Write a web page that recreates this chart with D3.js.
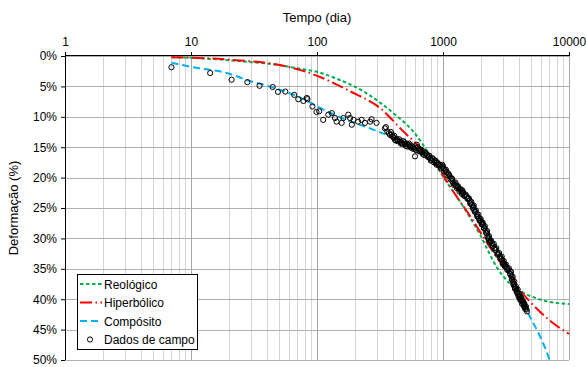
<!DOCTYPE html>
<html>
<head>
<meta charset="utf-8">
<script src="https://cdn.jsdelivr.net/npm/d3@7"></script>
<style>
  body { margin: 0; background: #fff; }
  svg { font-family: "Liberation Sans", Arial, sans-serif; }
</style>
</head>
<body>
<div id="chart"></div>
<script>
// tick values
const xTicks = [1, 10, 100, 1000, 10000];
const yTicks = [0, 5, 10, 15, 20, 25, 30, 35, 40, 45, 50];

// model curves: [tempo (dia), deformação (%)]
const reologico = [
  [7, 0.2], [10, 0.3], [26, 0.9], [50, 1.5], [73, 2.1], [100, 2.6], [134, 3.5],
  [246, 6.1], [403, 9.4], [580, 12.4], [786, 16.3], [1000, 19.8], [1450, 24.8],
  [1970, 29.4], [2685, 34.8], [3380, 37.4], [4330, 38.9], [6250, 40.2], [10000, 40.8]
];
const hiperbolico = [
  [7, 0.2], [20, 0.6], [57, 1.7], [93, 3.0], [183, 5.8], [318, 8.6], [484, 12.4],
  [700, 15.6], [1000, 19.6], [1140, 21.5], [1650, 26.4], [2200, 30.5], [3000, 34.6],
  [4000, 38.3], [4800, 40.2], [7550, 44.0], [10000, 45.7]
];
const composito = [
  [7, 1.1], [10.4, 1.85], [19.2, 2.8], [29.4, 4.1], [44.9, 5.2], [73, 6.8], [105, 8.5],
  [162, 10.3], [279, 12.1], [380, 13.2], [600, 15.5], [800, 17.0], [1000, 18.8],
  [1400, 22.3], [1800, 25.5], [2300, 29.2], [3000, 33.5], [3600, 36.8], [4200, 39.6],
  [4700, 42.1], [5920, 46.2], [7000, 49.9], [7300, 51]
];

// field data (dados de campo)
const campo = [
  [7, 1.85], [14.2, 2.8], [21, 3.9], [28, 4.3], [35, 4.9], [44.5, 5.1], [49, 5.9], [56, 5.85],
  [66, 6.4], [71, 7.1], [78, 7.4], [83, 6.9], [84, 7.1], [92, 8.3], [99, 9.2], [104, 9.1],
  [112, 10.5], [123, 9.65], [131, 9.4], [139, 10.2], [143, 10.8], [157, 11.0], [162, 10.2],
  [177, 9.65], [183, 10.2], [189, 11.3], [195, 10.5], [212, 10.8], [226, 10.5], [240, 11.0],
  [264, 10.8], [271, 10.4], [297, 11.0], [346, 11.9], [352, 11.7], [361, 12.4], [372, 12.7],
  [380, 13.0], [392, 12.9], [404, 13.4], [416, 13.8], [428, 13.6], [442, 13.9], [456, 14.1],
  [470, 14.2], [485, 14.0], [500, 14.5], [515, 14.4], [530, 14.6], [545, 14.8], [560, 14.7],
  [580, 15.0], [600, 16.5], [605, 15.1], [620, 14.6], [638, 15.3], [660, 15.5], [680, 15.8],
  [700, 15.7], [720, 16.0], [745, 16.3], [770, 16.6], [790, 16.8], [812, 17.1], [835, 17.0],
  [860, 17.3], [880, 17.6], [900, 17.5], [925, 17.8], [950, 17.9], [980, 18.2], [990, 17.9],
  [1010, 18.5], [1040, 18.8], [1067, 19.1], [1100, 19.3], [1130, 19.8], [1170, 20.1],
  [1190, 20.6], [1208, 20.9], [1240, 21.0], [1270, 21.3], [1300, 21.5], [1330, 21.8],
  [1364, 22.0], [1400, 22.3], [1425, 22.1], [1450, 22.6], [1490, 22.9], [1540, 23.1],
  [1580, 23.4], [1630, 23.8], [1660, 24.2], [1700, 24.5], [1740, 24.8], [1770, 25.3],
  [1800, 25.6], [1850, 26.0], [1890, 26.4], [1930, 26.7], [1970, 27.0], [2010, 27.3],
  [2050, 27.6], [2090, 27.8], [2130, 28.3], [2180, 28.7], [2227, 29.2], [2260, 29.7],
  [2300, 30.0], [2330, 30.3], [2380, 30.5], [2445, 30.8], [2500, 31.2], [2560, 31.6],
  [2620, 31.9], [2685, 32.3], [2750, 32.6], [2830, 33.0], [2900, 33.3], [2950, 33.6],
  [3000, 34.0], [3060, 34.2], [3130, 34.5], [3200, 34.8], [3290, 35.1], [3380, 35.4],
  [3440, 35.9], [3500, 36.3], [3550, 36.7], [3600, 37.2], [3650, 37.6], [3700, 38.0],
  [3760, 38.2], [3830, 38.5], [3890, 38.9], [3950, 39.2], [4010, 39.4], [4070, 39.6],
  [4130, 40.0], [4200, 40.3], [4260, 40.4], [4330, 40.6], [4390, 40.9], [4450, 41.2],
  [4520, 41.4], [4600, 41.7],
  // second pass over the dense band (spread around the trend)
  [386, 12.5], [398, 13.2], [410, 13.1], [422, 13.9], [436, 14.0], [450, 13.7], [463, 14.4],
  [478, 14.5], [492, 14.2], [508, 14.8], [522, 14.9], [538, 14.4], [552, 15.0], [570, 15.2],
  [590, 15.3], [612, 15.5], [630, 15.0], [650, 15.7], [670, 15.4], [690, 16.1], [710, 16.3],
  [735, 16.0], [758, 16.6], [780, 16.4], [800, 17.2], [825, 16.8], [848, 17.5], [870, 17.2],
  [890, 17.9], [912, 17.8], [938, 18.1], [965, 18.5], [1000, 18.2], [1025, 19.0], [1055, 18.7],
  [1085, 19.6], [1115, 19.5], [1150, 20.3], [1180, 20.2], [1220, 21.2], [1255, 20.8],
  [1285, 21.7], [1315, 21.4], [1350, 22.3], [1380, 21.9], [1415, 22.7], [1440, 22.4],
  [1470, 23.0], [1515, 22.8], [1560, 23.5], [1605, 23.4], [1645, 24.3], [1680, 24.0],
  [1720, 25.0], [1755, 24.6], [1785, 25.6], [1825, 25.4], [1870, 26.4], [1910, 26.1],
  [1950, 27.1], [1990, 26.8], [2030, 27.7], [2070, 27.4], [2110, 28.3], [2150, 28.0],
  [2200, 29.1], [2240, 28.8], [2280, 30.0], [2315, 29.6], [2360, 30.7], [2410, 30.4],
  [2470, 31.3], [2530, 30.9], [2590, 31.9], [2650, 31.6], [2715, 32.7], [2790, 32.4],
  [2865, 33.4], [2925, 33.0], [2980, 34.2], [3030, 33.7], [3095, 34.6], [3165, 34.3],
  [3240, 35.2], [3330, 34.9], [3410, 35.9], [3470, 35.5], [3525, 36.8], [3575, 36.3],
  [3625, 37.6], [3675, 37.1], [3730, 38.3], [3790, 37.9], [3860, 38.9], [3920, 38.4],
  [3980, 39.6], [4040, 39.1], [4100, 40.1], [4165, 39.7], [4230, 40.7], [4295, 40.2],
  [4360, 41.1], [4420, 40.7], [4490, 41.6], [4560, 41.2], [4640, 42.0]
];

const width = 586, height = 367;
const margin = {top: 56, right: 17, bottom: 7, left: 65};
const plotW = width - margin.left - margin.right;
const plotH = height - margin.top - margin.bottom;

const svg = d3.select('#chart').append('svg')
  .attr('width', width)
  .attr('height', height);

const x = d3.scaleLog().domain([1, 10000]).range([0, plotW]);
const y = d3.scaleLinear().domain([0, 50]).range([0, plotH]);

const g = svg.append('g')
  .attr('transform', `translate(${margin.left}, ${margin.top})`);

g.append('clipPath').attr('id', 'clip')
  .append('rect').attr('width', plotW).attr('height', plotH);

// minor vertical gridlines
const minor = [];
for (let d = 1; d < 10000; d *= 10) {
  for (let k = 2; k <= 9; k++) minor.push(d * k);
}
g.selectAll('.minor').data(minor).enter().append('line')
  .attr('x1', d => Math.round(x(d)) + 0.5).attr('x2', d => Math.round(x(d)) + 0.5)
  .attr('y1', 0).attr('y2', plotH)
  .attr('stroke', '#d4d4d4').attr('stroke-width', 1);

// major gridlines
g.selectAll('.vmajor').data(xTicks).enter().append('line')
  .attr('x1', d => Math.round(x(d)) + 0.5).attr('x2', d => Math.round(x(d)) + 0.5)
  .attr('y1', 0).attr('y2', plotH)
  .attr('stroke', '#a6a6a6').attr('stroke-width', 1);

g.selectAll('.hmajor').data(yTicks).enter().append('line')
  .attr('x1', 0).attr('x2', plotW)
  .attr('y1', d => Math.round(y(d)) + 0.5).attr('y2', d => Math.round(y(d)) + 0.5)
  .attr('stroke', '#b0b0b0').attr('stroke-width', 1);

// axes
const xAxis = g.append('g')
  .call(d3.axisTop(x).tickValues(xTicks).tickFormat(d3.format('d')).tickSize(4).tickPadding(6));
const yAxis = g.append('g')
  .call(d3.axisLeft(y).tickValues(yTicks).tickFormat(d => d + '%').tickSize(4).tickPadding(4));

[xAxis, yAxis].forEach(a => {
  a.select('.domain').attr('stroke', '#000');
  a.selectAll('.tick line').attr('stroke', '#000');
  a.selectAll('text').attr('font-size', 12).attr('fill', '#000')
    .attr('font-family', '"Liberation Sans", Arial, sans-serif');
});
xAxis.select('.domain').attr('d', `M0.5,-0.5H${plotW}`);
yAxis.select('.domain').attr('d', `M0.5,0V${plotH}`);

// axis titles
svg.append('text')
  .attr('x', margin.left + plotW / 2).attr('y', 22)
  .attr('text-anchor', 'middle').attr('font-size', 13)
  .text('Tempo (dia)');

svg.append('text')
  .attr('transform', `translate(18, ${margin.top + plotH / 2}) rotate(-90)`)
  .attr('text-anchor', 'middle').attr('font-size', 13)
  .text('Deformação (%)');

// curves
const line = d3.line()
  .x(d => x(d[0]))
  .y(d => y(d[1]))
  .curve(d3.curveMonotoneX);

const series = [
  {name: 'Reológico', data: reologico, color: '#00B050', dash: '3.5,2.5'},
  {name: 'Hiperbólico', data: hiperbolico, color: '#FF0000', dash: '12,3.5,1.5,3.5'},
  {name: 'Compósito', data: composito, color: '#00B0F0', dash: '7,4'}
];

const curves = g.append('g').attr('clip-path', 'url(#clip)');
series.forEach(s => {
  curves.append('path')
    .datum(s.data)
    .attr('fill', 'none')
    .attr('stroke', s.color)
    .attr('stroke-width', 2)
    .attr('stroke-dasharray', s.dash)
    .attr('d', line);
});

// field data points
g.append('g').selectAll('circle').data(campo).enter().append('circle')
  .attr('cx', d => x(d[0]))
  .attr('cy', d => y(d[1]))
  .attr('r', 2.6)
  .attr('fill', 'none')
  .attr('stroke', '#000')
  .attr('stroke-width', 1);

// legend
const lg = svg.append('g').attr('transform', 'translate(77, 274)');
lg.append('rect')
  .attr('x', 0.5).attr('y', 0.5).attr('width', 120).attr('height', 75)
  .attr('fill', '#fff').attr('stroke', '#000').attr('stroke-width', 1);

const rowY = [10, 28.5, 47, 65.5];
series.forEach((s, i) => {
  lg.append('line')
    .attr('x1', 3).attr('x2', 25)
    .attr('y1', rowY[i]).attr('y2', rowY[i])
    .attr('stroke', s.color).attr('stroke-width', 2)
    .attr('stroke-dasharray', s.dash);
  lg.append('text')
    .attr('x', 27).attr('y', rowY[i] + 4.5)
    .attr('font-size', 12)
    .text(s.name);
});
lg.append('circle')
  .attr('cx', 13).attr('cy', rowY[3]).attr('r', 2.6)
  .attr('fill', 'none').attr('stroke', '#000').attr('stroke-width', 1);
lg.append('text')
  .attr('x', 27).attr('y', rowY[3] + 4.5)
  .attr('font-size', 12)
  .text('Dados de campo');
</script>
</body>
</html>
